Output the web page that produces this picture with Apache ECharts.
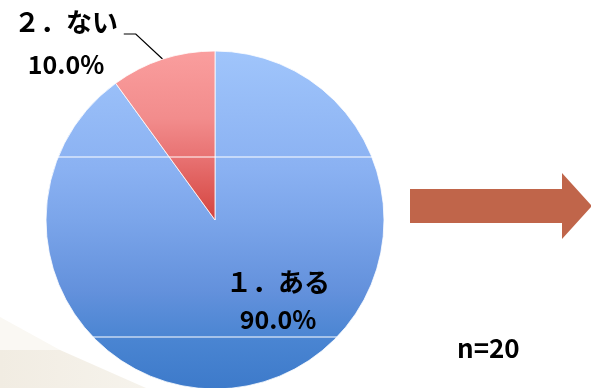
<!DOCTYPE html>
<html>
<head>
<meta charset="utf-8">
<script src="https://cdn.jsdelivr.net/npm/echarts@6/dist/echarts.min.js"></script>
<style>
  html, body { margin: 0; padding: 0; background: #ffffff; }
  #chart { width: 591px; height: 388px; }
</style>
</head>
<body>
<div id="chart"></div>
<script>
// Survey answers and their shares (percent)
const categories = ['１．ある', '２．ない'];
const shares = [90.0, 10.0];
const sampleLabel = 'n=20';

// Pie geometry
const CX = 215, CY = 220, R = 169;

const blueFill = new echarts.graphic.LinearGradient(0, 0, 0, 1, [
  { offset: 0, color: '#A0C5FB' },
  { offset: 0.35, color: '#8AB1F2' },
  { offset: 0.5, color: '#7BA5EA' },
  { offset: 0.71, color: '#6391DC' },
  { offset: 0.85, color: '#4A85D2' },
  { offset: 1, color: '#3D7ACA' }
]);
const redFill = new echarts.graphic.LinearGradient(0, 0, 0, 1, [
  { offset: 0, color: '#FA9E9E' },
  { offset: 0.4, color: '#F28C8C' },
  { offset: 0.63, color: '#E87272' },
  { offset: 0.9, color: '#D9504C' },
  { offset: 1, color: '#D2423E' }
]);
const fills = [blueFill, redFill];

const labelFont = '"Noto Sans CJK JP", "Noto Sans", sans-serif';

// Two-line label styles: inside label is tighter than the outside one
function labelRich(nameLH, pctLH) {
  return {
    a: { fontFamily: labelFont, fontSize: 26, fontWeight: 'bold', color: '#000000', lineHeight: nameLH, align: 'center' },
    b: { fontFamily: labelFont, fontSize: 25, fontWeight: 'bold', color: '#000000', lineHeight: pctLH, align: 'center' }
  };
}

// White rule lines crossing the pie, clipped to the circle
function chordLine(y) {
  const dy = y - CY;
  const half = Math.sqrt(R * R - dy * dy);
  return {
    type: 'line', z: 10,
    shape: { x1: CX - half, y1: y, x2: CX + half, y2: y },
    style: { stroke: '#ffffff', lineWidth: 1.2 }
  };
}

const chart = echarts.init(document.getElementById('chart'), null, { renderer: 'canvas' });

chart.setOption({
  animation: false,
  backgroundColor: '#ffffff',
  graphic: [
    // soft beige backdrop in the lower-left corner
    { type: 'polygon', z: -10, shape: { points: [[0, 317], [60, 350], [0, 350]] },
      style: { fill: '#FAF8F3' } },
    { type: 'polygon', z: -10, shape: { points: [[0, 350], [60, 350], [146, 388], [0, 388]] },
      style: { fill: new echarts.graphic.LinearGradient(0, 0, 1, 0, [
        { offset: 0, color: '#F1ECE2' }, { offset: 1, color: '#F6F3EC' }]) } },
    chordLine(157),
    chordLine(337),
    // block arrow pointing right
    { type: 'polygon', z: 5,
      shape: { points: [[410, 189], [562, 189], [562, 173], [592, 206], [562, 239], [562, 223], [410, 223]] },
      style: { fill: '#C0654A' } },
    { type: 'text', z: 5, left: 457, top: 335,
      style: { text: sampleLabel, fill: '#000000', font: 'bold 26px "Noto Sans CJK JP", sans-serif' } }
  ],
  series: [{
    type: 'pie',
    center: [CX, CY],
    radius: [0, R],
    startAngle: 90,
    clockwise: true,
    silent: true,
    itemStyle: { borderColor: '#ffffff', borderWidth: 0.8 },
    labelLine: { show: true, lineStyle: { color: '#000000', width: 1.2 } },
    data: categories.map((name, i) => ({
      name: name,
      value: shares[i],
      itemStyle: { color: fills[i] },
      label: i === 0
        ? { position: 'inside', rich: labelRich(42, 32) }
        : { position: 'outside', rich: labelRich(42, 42) },
      labelLine: { show: i === 1, length: 30, length2: 12 }
    })),
    label: {
      formatter: p => '{a|' + p.name + '}\n{b|' + p.value.toFixed(1) + '%}',
      align: 'center'
    },
    labelLayout: function (p) {
      if (p.dataIndex === 0) {
        return { dx: 36, dy: -5 };
      }
      const pts = p.labelLinePoints;
      const anchor = pts ? pts[0] : [CX - R * Math.sin(Math.PI / 10), CY - R * Math.cos(Math.PI / 10)];
      const bend = [anchor[0] - 27, 34];
      const end = [bend[0] - 12, 34];
      return {
        x: 66, y: 43, align: 'center', verticalAlign: 'middle',
        labelLinePoints: [anchor, bend, end]
      };
    }
  }]
});
</script>
</body>
</html>
